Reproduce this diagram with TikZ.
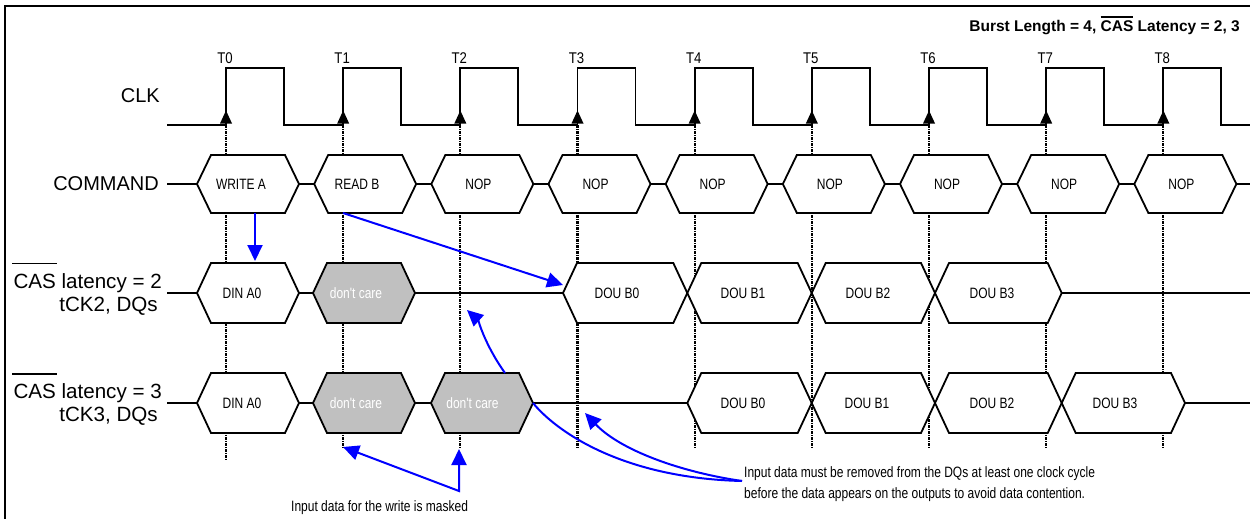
\documentclass[tikz,border=0pt]{standalone}
\usepackage{fontspec}
\setmainfont{Liberation Sans}
\newfontfamily\narrowf[FakeStretch=0.8]{Liberation Sans}
\newfontfamily\tfont[FakeStretch=0.85]{Liberation Sans}
\usetikzlibrary{arrows.meta}
\definecolor{dcgray}{RGB}{192,192,192}
\definecolor{arrblue}{RGB}{0,0,255}
\newcommand\hexag[5]{\filldraw[sig,fill=#5] (#1,#3) -- (#1+14,#3-#4) -- (#2-14,#3-#4) -- (#2,#3) -- (#2-14,#3+#4) -- (#1+14,#3+#4) -- cycle;}
\newcommand\ovl[1]{\setbox0\hbox{#1}\rlap{\raisebox{\dimexpr\ht0+3pt\relax}{\rule{\wd0}{1.6pt}}}\box0\relax}
\begin{document}
\begin{tikzpicture}[x=1pt,y=-1pt,
  sig/.style={line width=1.8pt, black},
  tickline/.style={line width=2.2pt, dash pattern=on 3pt off 0.8pt on 1.4pt off 0.8pt},
  lbl/.style={font=\fontsize{20}{24}\selectfont, inner sep=0pt},
  caslbl/.style={font=\fontsize{20.6}{24}\selectfont, inner sep=0pt, anchor=base east},
  boxtxt/.style={font=\narrowf\fontsize{15}{18}\selectfont, inner sep=0pt},
  wtxt/.style={boxtxt, text=white},
  ttxt/.style={font=\tfont\fontsize{15.5}{17}\selectfont, inner sep=0pt, anchor=base},
  note/.style={font=\narrowf\fontsize{15}{18}\selectfont, inner sep=0pt, anchor=base west},
  bl/.style={line width=2pt, arrblue, -{Triangle[length=16pt,width=15pt]}},
  bln/.style={line width=2pt, arrblue},
]
\useasboundingbox (0,0) rectangle (1250,519);
% frame
\draw[line width=2pt] (1252,6) -- (5,6) -- (5,521);
% title
\node[font=\bfseries\fontsize{15.5}{18}\selectfont, inner sep=0pt, anchor=base east] (title) at (1240,31.7) {Burst Length = 4, \ovl{CAS} Latency = 2, 3};
% dotted time lines
\foreach \i in {1,...,8} \draw[tickline] ({226+117.17*\i},125) -- ({226+117.17*\i},448);
\draw[tickline] (226,125) -- (226,460);
% signal base lines
\draw[sig] (167,184) -- (1252,184);
\draw[sig] (167,293) -- (1252,293);
\draw[sig] (167,403) -- (1252,403);
% clock
\draw[sig] (167,125) foreach \i in {0,...,8} { -- ({226+117.17*\i},125) -- ({226+117.17*\i},68) -- ({284+117.17*\i},68) -- ({284+117.17*\i},125) } -- (1252,125);
\foreach \i in {0,...,8} {
  \fill ({226+117.17*\i},110.5) -- ++(-6,13) -- ++(12,0) -- cycle;
  \node[ttxt] (t\i) at ({225+117.17*\i},63.5) {T\i};
}
% labels
\node[lbl, anchor=east] (clk) at (160,95.5) {CLK};
\node[lbl, anchor=east] (cmd) at (159,184) {COMMAND};
\node[caslbl] (cas2a) at (162,288.3) {CAS latency = 2};
\node[caslbl] (cas2b) at (158,311.5) {tCK2, DQs};
\draw[line width=1.6pt] (12,263.3) -- (57,263.3);
\node[caslbl] (cas3a) at (162,398.3) {CAS latency = 3};
\node[caslbl] (cas3b) at (158,421.5) {tCK3, DQs};
\draw[line width=1.6pt] (12,374) -- (57,374);
% command row
\foreach \i in {0,...,8} {\hexag{226+117.17*\i-29}{226+117.17*\i+73}{184}{29}{white}}
\node[boxtxt] (c0) at (241,184) {WRITE A};
\node[boxtxt] (c1) at (357,184) {READ B};
\foreach \i in {2,...,8} \node[boxtxt] (c\i) at ({226+117.17*\i+18},184) {NOP};
% CAS latency 2 row
\hexag{197}{299}{293}{30}{white}
\hexag{313}{415}{293}{30}{dcgray}
\hexag{563}{687.3}{293}{30}{white}
\hexag{687.3}{811.7}{293}{30}{white}
\hexag{811.7}{935}{293}{30}{white}
\hexag{935}{1061.7}{293}{30}{white}
\node[boxtxt] (d2a) at (242,293) {DIN A0};
\node[wtxt] (d2b) at (356,293) {don't care};
\node[boxtxt] (d2c) at (617,293) {DOU B0};
\node[boxtxt] (d2d) at (743,293) {DOU B1};
\node[boxtxt] (d2e) at (868,293) {DOU B2};
\node[boxtxt] (d2f) at (992,293) {DOU B3};
% CAS latency 3 row
\hexag{197}{299}{403}{30}{white}
\hexag{313}{415}{403}{30}{dcgray}
\hexag{431}{533}{403}{30}{dcgray}
\hexag{687.3}{811.7}{403}{30}{white}
\hexag{811.7}{935}{403}{30}{white}
\hexag{935}{1061.7}{403}{30}{white}
\hexag{1061.7}{1185}{403}{30}{white}
\node[boxtxt] (d3a) at (242,403) {DIN A0};
\node[wtxt] (d3b) at (356,403) {don't care};
\node[wtxt] (d3c) at (472.5,403) {don't care};
\node[boxtxt] (d3d) at (743,403) {DOU B0};
\node[boxtxt] (d3e) at (867,403) {DOU B1};
\node[boxtxt] (d3f) at (992,403) {DOU B2};
\node[boxtxt] (d3g) at (1115,403) {DOU B3};
% notes
\node[note] (n1) at (744,477) {Input data must be removed from the DQs at least one clock cycle};
\node[note] (n2) at (744,498) {before the data appears on the outputs to avoid data contention.};
\node[note] (n3) at (291,511.7) {Input data for the write is masked};
% blue arrows
\coordinate (wA) at (255,213);
\coordinate (dA) at (255,261);
\coordinate (rB) at (343,213);
\coordinate (dB) at (563,285);
\coordinate (dc3top) at (505,373);
\coordinate (t2gap) at (467,310);
\coordinate (dc3right) at (533,403);
\coordinate (nj) at (742,481);
\coordinate (t3gap) at (585,413);
\coordinate (mj) at (459,491);
\coordinate (m1) at (343,447);
\coordinate (m2) at (459,449);
\draw[bl] (wA) -- (dA);
\draw[bl] (rB) -- (dB);
\draw[bl] (dc3top) .. controls (485,345) and (478,320) .. (t2gap);
\draw[bln] (dc3right) .. controls (555,430) and (620,478) .. (nj);
\draw[bl] (nj) .. controls (680,472) and (620,450) .. (t3gap);
\draw[bl, {Triangle[length=16pt,width=15pt]}-{Triangle[length=16pt,width=15pt]}] (m1) -- (mj) -- (m2);
\end{tikzpicture}
\end{document}
